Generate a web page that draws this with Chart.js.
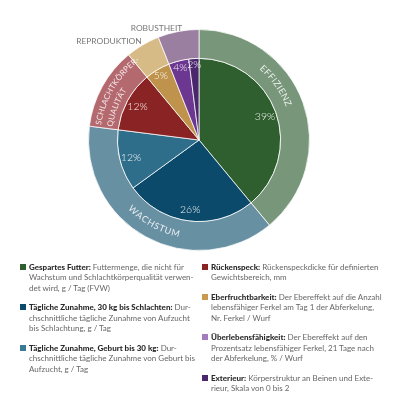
<!DOCTYPE html>
<html>
<head>
<meta charset="utf-8">
<script src="https://cdn.jsdelivr.net/npm/chart.js@4/dist/chart.umd.min.js"></script>
<style>
  html, body { margin:0; padding:0; background:#fff; width:399px; height:399px; overflow:hidden; }
  #wrap { position:relative; width:399px; height:399px; }
  #c { position:absolute; left:0; top:0; }
  .col { position:absolute; top:262px; font-family: Lato, "Open Sans", sans-serif; font-size:8px; line-height:10.4px; color:#666; white-space:nowrap; }
  .item { position:relative; margin-bottom:9.2px; }
  .sw { position:absolute; left:-9px; top:2px; width:6px; height:6px; }
  .item b { color:#2a2a2a; font-weight:900; }
</style>
</head>
<body>
<div id="wrap">
  <canvas id="c" width="399" height="399"></canvas>
  <div class="col" id="colL" style="left:29px;"></div>
  <div class="col" id="colR" style="left:211px;"></div>
</div>
<script>
// ---- data ----
const categories = ['Gespartes Futter', 'Tägliche Zunahme, 30 kg bis Schlachten', 'Tägliche Zunahme, Geburt bis 30 kg', 'Rückenspeck', 'Eberfruchtbarkeit', 'Überlebensfähigkeit', 'Exterieur'];
const shares = [39, 26, 12, 12, 5, 4, 2];
const groups = ['EFFIZIENZ', 'WACHSTUM', 'SCHLACHTKÖRPER-|QUALITÄT', 'REPRODUKTION', 'ROBUSTHEIT'];
const groupShares = [39, 38, 12, 5, 6];
const descriptions = [
  'Futtermenge, die nicht für|Wachstum und Schlachtkörperqualität verwen-|det wird, g / Tag (FVW)',
  'Dur-|chschnittliche tägliche Zunahme von Aufzucht|bis Schlachtung, g / Tag',
  'Dur-|chschnittliche tägliche Zunahme von Geburt bis|Aufzucht, g / Tag',
  'Rückenspeckdicke für definierten|Gewichtsbereich, mm',
  'Der Ebereffekt auf die Anzahl|lebensfähiger Ferkel am Tag 1 der Abferkelung,|Nr. Ferkel / Wurf',
  'Der Ebereffekt auf den|Prozentsatz lebensfähiger Ferkel, 21 Tage nach|der Abferkelung, % / Wurf',
  'Körperstruktur an Beinen und Exte-|rieur, Skala von 0 bis 2'
];

// ---- styles ----
const innerColors = ['#2f5f2e', '#0b4a6b', '#2f6e8a', '#8a2323', '#bf934b', '#6c3790', '#4a266d'];
const swatchColors = ['#2f5f2e', '#0b4a6b', '#3a7a95', '#8a2323', '#c9994f', '#a27cbd', '#4a266d'];
const outerColors = ['#78967a', '#6890a3', '#b4696f', '#d7bb86', '#9b7fa1'];

// ---- legend (HTML) ----
function legendItem(i) {
  const lines = descriptions[i].split('|');
  return '<div class="item"><span class="sw" style="background:' + swatchColors[i] + '"></span><b>' +
    categories[i] + ':</b> ' + lines.join('<br>') + '</div>';
}
document.getElementById('colL').innerHTML = [0,1,2].map(legendItem).join('');
document.getElementById('colR').innerHTML = [3,4,5,6].map(legendItem).join('');

// ---- label plugin ----
const FONT = 'Lato, "Open Sans", sans-serif';
function arcText(ctx, text, cx, cy, r, angle, clockwise, spacing, align) {
  // angle: canvas angle (radians from +x, clockwise); align 'center' or 'start'
  const chars = [...text];
  const widths = chars.map(ch => ctx.measureText(ch).width + spacing);
  const total = widths.reduce((a, b) => a + b, 0) - spacing;
  const span = total / r;
  const start = align === 'start' ? angle : (clockwise ? angle - span / 2 : angle + span / 2);
  let acc = 0;
  chars.forEach((ch, k) => {
    const w = widths[k] - spacing;
    const off = (acc + w / 2) / r;
    let a, rot;
    if (clockwise) { a = start + off; rot = a + Math.PI / 2; }
    else { a = start - off; rot = a - Math.PI / 2; }
    ctx.save();
    ctx.translate(cx + r * Math.cos(a), cy + r * Math.sin(a));
    ctx.rotate(rot);
    ctx.fillText(ch, 0, 0);
    ctx.restore();
    acc += widths[k];
  });
}

const labelPlugin = {
  id: 'labels',
  afterDatasetsDraw(chart) {
    const ctx = chart.ctx;
    const outer = chart.getDatasetMeta(0).data;
    const inner = chart.getDatasetMeta(1).data;
    ctx.save();
    ctx.textAlign = 'center';
    ctx.textBaseline = 'middle';
    // percentages
    ctx.fillStyle = 'rgba(255,255,255,0.92)';
    ctx.font = '300 10.5px ' + FONT;
    inner.forEach((arc, i) => {
      const p = arc.getProps(['x', 'y', 'startAngle', 'endAngle', 'outerRadius'], true);
      const mid = (p.startAngle + p.endAngle) / 2;
      const rr = p.outerRadius * (shares[i] >= 10 ? 0.86 : 0.92);
      ctx.fillText(shares[i] + '%', p.x + rr * Math.cos(mid), p.y + rr * Math.sin(mid));
    });
    // group labels
    const pos = [0.39, 0.5, 0.5, 0.5, 0.5];
    outer.forEach((arc, i) => {
      const p = arc.getProps(['x', 'y', 'startAngle', 'endAngle', 'innerRadius', 'outerRadius'], true);
      const a = p.startAngle + (p.endAngle - p.startAngle) * pos[i];
      const rm = (p.innerRadius + p.outerRadius) / 2;
      const lines = groups[i].split('|');
      ctx.fillStyle = 'rgba(255,255,255,0.85)';
      if (i === 0) {
        ctx.font = '9px ' + FONT;
        arcText(ctx, lines[0], p.x, p.y, rm, a, true, 0.6, 'center');
      } else if (i === 1) {
        ctx.font = '9px ' + FONT;
        arcText(ctx, lines[0], p.x, p.y, rm, a, false, 0.6, 'center');
      } else if (i === 2) {
        ctx.font = '8px ' + FONT;
        arcText(ctx, lines[0], p.x, p.y, rm + 5.5, p.startAngle + 0.025, true, 0.25, 'start');
        arcText(ctx, lines[1], p.x, p.y, rm - 6, p.startAngle + 0.025, true, 0.25, 'start');
      } else {
        ctx.fillStyle = '#777';
        ctx.font = '8.4px ' + FONT;
        ctx.textAlign = 'right';
        const ma = (p.startAngle + p.endAngle) / 2;
        const rr = p.outerRadius + 6;
        const dx = i === 4 ? 5 : 2;
        const dy = i === 4 ? 3 : 2;
        ctx.fillText(groups[i], p.x + rr * Math.cos(ma) + dx, p.y + rr * Math.sin(ma) + dy);
        ctx.textAlign = 'center';
      }
    });
    ctx.restore();
  }
};

new Chart(document.getElementById('c'), {
  type: 'doughnut',
  data: {
    labels: categories,
    datasets: [
      { data: groupShares, backgroundColor: outerColors, borderColor: 'rgba(255,255,255,0.75)', borderWidth: 1, weight: 29 },
      { data: shares, backgroundColor: innerColors, borderColor: 'rgba(255,255,255,0.75)', borderWidth: 1, weight: 82 }
    ]
  },
  options: {
    responsive: false,
    animation: false,
    cutout: 0,
    layout: { padding: { left: 88, right: 89, top: 29, bottom: 148 } },
    plugins: { legend: { display: false }, tooltip: { enabled: false } }
  },
  plugins: [labelPlugin]
});
</script>
</body>
</html>
